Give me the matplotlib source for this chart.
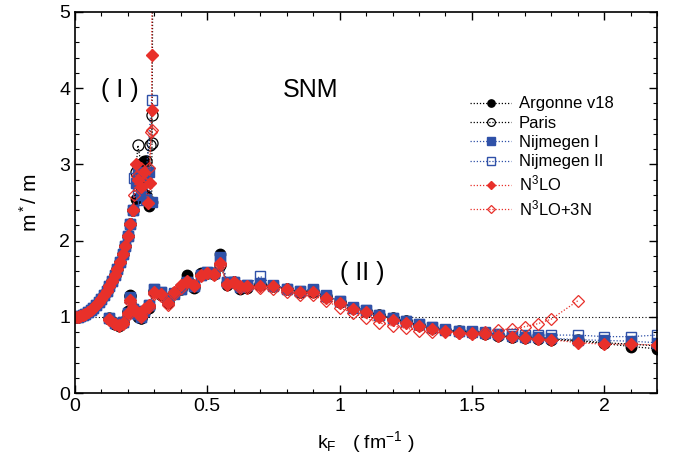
"""
Effective mass m*/m vs Fermi momentum in symmetric nuclear matter (SNM)
for several NN potentials.
"""

import matplotlib
matplotlib.use('Agg')
import matplotlib.pyplot as plt
from matplotlib.ticker import MultipleLocator

plt.rcParams['font.family'] = ['Liberation Sans', 'DejaVu Sans']
plt.rcParams['mathtext.fontset'] = 'custom'
plt.rcParams['mathtext.rm'] = 'Liberation Sans'
plt.rcParams['mathtext.it'] = 'Liberation Sans'

BLACK = '#000000'
BLUE = '#2f51a8'
RED = '#e8302a'

# --- Branch (I): low-density branch, common smooth part ---
k1_base = [0.00, 0.01, 0.02, 0.03, 0.04, 0.05, 0.06, 0.07, 0.08, 0.09, 0.10,
           0.11, 0.12, 0.13, 0.14, 0.15, 0.16, 0.17, 0.18, 0.19, 0.20, 0.21, 0.22]
y1_base = [1.00, 1.00, 1.01, 1.02, 1.04, 1.06, 1.09, 1.12, 1.15, 1.19, 1.23,
           1.28, 1.34, 1.40, 1.47, 1.55, 1.63, 1.72, 1.82, 1.93, 2.06, 2.22, 2.40]

# scattered points near the pole (k_F ~ 0.29), per potential
k1_av18 = [0.23, 0.24, 0.25, 0.26, 0.27, 0.28, 0.29, 0.295]
y1_av18 = [2.55, 2.95, 2.70, 3.05, 2.60, 2.45, 2.50, 6.00]
k1_paris = [0.23, 0.238, 0.25, 0.26, 0.27, 0.282, 0.29, 0.292]
y1_paris = [2.90, 3.25, 3.00, 2.85, 3.05, 3.25, 3.65, 3.28]
k1_nij1 = [0.23, 0.24, 0.25, 0.26, 0.27, 0.28, 0.29]
y1_nij1 = [2.75, 2.90, 2.60, 2.85, 2.55, 2.90, 2.50]
k1_nij2 = [0.225, 0.24, 0.257, 0.27, 0.29]
y1_nij2 = [2.82, 2.65, 2.53, 2.90, 3.85]
k1_n3lo = [0.232, 0.24, 0.25, 0.26, 0.276, 0.282, 0.29, 0.29, 0.292]
y1_n3lo = [3.00, 2.80, 2.70, 2.90, 2.49, 2.75, 3.71, 4.43, 6.00]
k1_n3lo3n = [0.225, 0.235, 0.25, 0.265, 0.28, 0.289, 0.29]
y1_n3lo3n = [2.60, 2.85, 2.95, 2.75, 2.95, 3.43, 3.45]

# --- Branch (II): higher-density branch ---
k2 = [0.13, 0.15, 0.165, 0.18, 0.20, 0.21, 0.22, 0.24, 0.25, 0.26, 0.28, 0.30,
      0.325, 0.35, 0.375, 0.40, 0.425, 0.45, 0.475, 0.50, 0.525, 0.55, 0.575,
      0.60, 0.625, 0.65, 0.70, 0.75, 0.80, 0.85, 0.90, 0.95, 1.00, 1.05, 1.10,
      1.15, 1.20, 1.25, 1.30, 1.35, 1.40, 1.45, 1.50, 1.55, 1.60, 1.65, 1.70,
      1.75, 1.80, 1.90, 2.00, 2.10, 2.20]

y2_av18 = [0.97, 0.90, 0.88, 0.92, 1.08, 1.28, 1.12, 1.00, 0.98, 1.05, 1.12, 1.33,
           1.28, 1.18, 1.30, 1.38, 1.55, 1.38, 1.57, 1.57, 1.57, 1.82, 1.42,
           1.45, 1.37, 1.38, 1.42, 1.40, 1.37, 1.33, 1.33, 1.26, 1.20, 1.12, 1.08,
           1.02, 0.98, 0.94, 0.89, 0.85, 0.83, 0.80, 0.79, 0.78, 0.75, 0.73, 0.72,
           0.71, 0.70, 0.68, 0.65, 0.61, 0.58]
y2_paris = [0.98, 0.91, 0.89, 0.93, 1.06, 1.27, 1.10, 1.02, 0.99, 1.06, 1.14, 1.34,
            1.30, 1.20, 1.31, 1.37, 1.50, 1.40, 1.56, 1.58, 1.56, 1.68, 1.44,
            1.45, 1.39, 1.39, 1.43, 1.40, 1.37, 1.33, 1.34, 1.27, 1.20, 1.12, 1.08,
            1.02, 0.98, 0.94, 0.89, 0.85, 0.83, 0.81, 0.80, 0.79, 0.76, 0.74, 0.73,
            0.72, 0.71, 0.69, 0.66, 0.64, 0.62]
y2_nij1 = [0.98, 0.92, 0.90, 0.93, 1.05, 1.26, 1.10, 1.04, 1.00, 1.08, 1.16, 1.36,
           1.32, 1.22, 1.30, 1.36, 1.45, 1.40, 1.55, 1.59, 1.57, 1.78, 1.45,
           1.46, 1.39, 1.42, 1.44, 1.41, 1.37, 1.34, 1.35, 1.27, 1.21, 1.12, 1.09,
           1.03, 0.99, 0.95, 0.90, 0.86, 0.83, 0.81, 0.80, 0.79, 0.77, 0.75, 0.74,
           0.73, 0.72, 0.70, 0.69, 0.68, 0.66]
y2_nij2 = [0.98, 0.92, 0.90, 0.93, 1.05, 1.25, 1.10, 1.04, 1.00, 1.08, 1.15, 1.36,
           1.32, 1.22, 1.31, 1.36, 1.46, 1.41, 1.55, 1.59, 1.57, 1.74, 1.45,
           1.46, 1.40, 1.42, 1.53, 1.42, 1.37, 1.34, 1.37, 1.28, 1.21, 1.13, 1.09,
           1.03, 0.99, 0.95, 0.90, 0.86, 0.84, 0.82, 0.81, 0.80, 0.78, 0.77, 0.76,
           0.76, 0.76, 0.76, 0.74, 0.74, 0.76]
y2_n3lo = [0.97, 0.91, 0.89, 0.92, 1.05, 1.22, 1.12, 1.05, 1.01, 1.10, 1.15, 1.33,
           1.30, 1.18, 1.32, 1.42, 1.47, 1.42, 1.55, 1.58, 1.56, 1.70, 1.43,
           1.46, 1.40, 1.40, 1.40, 1.40, 1.36, 1.32, 1.32, 1.25, 1.18, 1.10, 1.06,
           1.00, 0.96, 0.92, 0.88, 0.84, 0.81, 0.79, 0.78, 0.77, 0.75, 0.73, 0.72,
           0.71, 0.70, 0.66, 0.64, 0.64, 0.63]

k2_n3lo3n = k2[:-3]
y2_n3lo3n = [0.96, 0.90, 0.88, 0.91, 1.03, 1.20, 1.10, 1.04, 1.00, 1.08, 1.13, 1.30,
             1.27, 1.16, 1.30, 1.38, 1.45, 1.40, 1.54, 1.57, 1.55, 1.68, 1.42,
             1.44, 1.38, 1.38, 1.38, 1.36, 1.33, 1.29, 1.28, 1.21, 1.12, 1.05, 0.98,
             0.92, 0.88, 0.85, 0.82, 0.80, 0.80, 0.79, 0.79, 0.80, 0.83, 0.84, 0.87,
             0.91, 0.97, 1.21]

SERIES = [
    ('Argonne v18', k1_av18, y1_av18, k2, y2_av18,
     dict(color=BLACK, marker='o', ms=7.5, mfc=BLACK, mec=BLACK)),
    ('Paris', k1_paris, y1_paris, k2, y2_paris,
     dict(color=BLACK, marker='o', ms=8, mfc='none', mec=BLACK, mew=0.9)),
    ('Nijmegen I', k1_nij1, y1_nij1, k2, y2_nij1,
     dict(color=BLUE, marker='s', ms=7.5, mfc=BLUE, mec=BLUE)),
    ('Nijmegen II', k1_nij2, y1_nij2, k2, y2_nij2,
     dict(color=BLUE, marker='s', ms=7.5, mfc='none', mec=BLUE, mew=1.0)),
    ('N$^3$LO', k1_n3lo, y1_n3lo, k2, y2_n3lo,
     dict(color=RED, marker='D', ms=6, mfc=RED, mec=RED)),
    ('N$^3$LO+3N', k1_n3lo3n, y1_n3lo3n, k2_n3lo3n, y2_n3lo3n,
     dict(color=RED, marker='D', ms=6, mfc='none', mec=RED, mew=0.9)),
]

fig = plt.figure(figsize=(6.81, 4.57), dpi=100)
ax = fig.add_axes([0.110, 0.140, 0.855, 0.834])

ax.axhline(1.0, color=BLACK, ls=(0, (1, 2)), lw=0.8, zorder=1)

for name, ka, ya, kb, yb, style in SERIES:
    line_kw = dict(ls=(0, (1, 1.5)), lw=0.9, clip_on=True, **style)
    ax.plot(k1_base + ka, y1_base + ya, label=name, **line_kw)
    ax.plot(kb, yb, **line_kw)

ax.set_xlim(0, 2.2)
ax.set_ylim(0, 5)
ax.xaxis.set_major_locator(MultipleLocator(0.5))
ax.xaxis.set_minor_locator(MultipleLocator(0.1))
ax.yaxis.set_major_locator(MultipleLocator(1))
ax.yaxis.set_minor_locator(MultipleLocator(0.2))
ax.xaxis.set_major_formatter(plt.FuncFormatter(lambda v, p: f'{v:g}'))
ax.tick_params(which='both', direction='in', top=True, right=True, labelsize=14)
ax.tick_params(which='major', length=6, width=1)
ax.tick_params(which='minor', length=3, width=0.8)
for sp in ax.spines.values():
    sp.set_linewidth(1.2)

ax.set_xlabel(r'k$_\mathrm{F}$   ( fm$^{-1}$ )', fontsize=14, labelpad=10)
ax.set_ylabel(r'm$^*$/ m', fontsize=15, labelpad=13)

ax.text(0.17, 3.98, '( I )', fontsize=18, ha='center', va='center')
ax.text(0.89, 3.98, 'SNM', fontsize=18, ha='center', va='center')
ax.text(1.085, 1.58, '( II )', fontsize=18, ha='center', va='center')

ax.legend(loc='upper left', bbox_to_anchor=(0.678, 0.778), frameon=False,
          fontsize=12, handlelength=2.5, handletextpad=0.45, labelspacing=0.26,
          borderpad=0, borderaxespad=0, markerscale=0.7)

fig.savefig('out.png', dpi=100)
